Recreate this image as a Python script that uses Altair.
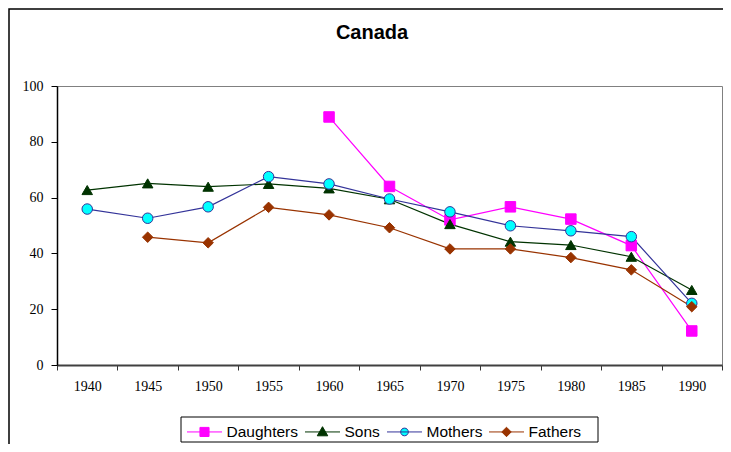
import altair as alt
import pandas as pd

years = [1940, 1945, 1950, 1955, 1960, 1965, 1970, 1975, 1980, 1985, 1990]
daughters = [None, None, None, None, 88.9, 64.0, 52.0, 56.7, 52.3, 42.8, 12.2]
sons = [62.7, 65.1, 63.9, 64.9, 63.3, 59.4, 50.5, 44.2, 43.0, 38.8, 26.9]
mothers = [55.9, 52.6, 56.7, 67.5, 64.9, 59.5, 54.9, 49.9, 48.1, 46.0, 22.1]
fathers = [None, 45.8, 43.8, 56.5, 53.8, 49.2, 41.6, 41.6, 38.5, 34.1, 20.9]

series_names = ["Daughters", "Sons", "Mothers", "Fathers"]
line_colors = ["#FF00FF", "#003300", "#333399", "#993300"]
fill_colors = ["#FF00FF", "#003300", "#00FFFF", "#993300"]
stroke_colors = ["#FF00FF", "#003300", "#333399", "#993300"]
shapes = ["square", "triangle-up", "circle", "diamond"]
legend_shapes = [
    "M-1,0H1M-0.26,-0.26H0.26V0.26H-0.26Z",
    "M-1,0H1M0,-0.3L0.3,0.22H-0.3Z",
    "M-1,0H1M-0.22,0A0.22,0.22 0 1,0 0.22,0A0.22,0.22 0 1,0 -0.22,0Z",
    "M-1,0H1M0,-0.27L0.27,0L0,0.27L-0.27,0Z",
]

rows = []
for name, vals in zip(series_names, [daughters, sons, mothers, fathers]):
    for yr, v in zip(years, vals):
        if v is not None:
            rows.append({"year": yr, "value": v, "series": name})
df = pd.DataFrame(rows)

W, H = 665, 279
half = 2.5
x_domain = [years[0] - half, years[-1] + half]
boundaries = [y - half for y in years] + [years[-1] + half]
label_shift = W / len(years) / 2

x_enc = alt.X(
    "year:Q",
    scale=alt.Scale(domain=x_domain, nice=False, zero=False),
    axis=alt.Axis(
        values=boundaries,
        title=None,
        grid=False,
        labelExpr="datum.value > %s ? '' : format(datum.value + %s, 'd')" % (years[-1], half),
        labelOffset=label_shift,
        labelOverlap=False,
        labelFlush=False,
        labelBound=False,
        labelFont="Liberation Serif",
        labelFontSize=14,
        labelColor="black",
        labelPadding=9,
        tickSize=5,
        tickColor="#333333",
        domainColor="#404040",
        domainWidth=2,
    ),
)
y_enc = alt.Y(
    "value:Q",
    scale=alt.Scale(domain=[0, 100], nice=False),
    axis=alt.Axis(
        values=[0, 20, 40, 60, 80, 100],
        title=None,
        grid=False,
        labelFont="Liberation Serif",
        labelFontSize=14,
        labelColor="black",
        labelPadding=8,
        tickSize=6,
        tickColor="black",
        domainColor="black",
        domainWidth=1.5,
    ),
)

leg = alt.Legend(
    title=None,
    orient="none",
    legendX=129.5,
    legendY=327.7,
    direction="horizontal",
    columns=4,
    padding=0,
    columnPadding=4,
    labelOffset=4,
    labelFont="Liberation Sans",
    labelFontSize=15.5,
    labelColor="black",
    symbolSize=1225,
    symbolStrokeWidth=1,
    symbolOpacity=1,
)

lines = alt.Chart(df).mark_line(strokeWidth=1.2).encode(
    x=x_enc,
    y=y_enc,
    color=alt.Color("series:N", scale=alt.Scale(domain=series_names, range=line_colors), legend=None),
    detail="series:N",
)

points = alt.Chart(df).mark_point(filled=True, size=110, strokeWidth=1, opacity=1).encode(
    x=x_enc,
    y=y_enc,
    shape=alt.Shape("series:N", scale=alt.Scale(domain=series_names, range=shapes), legend=None),
    fill=alt.Fill("series:N", scale=alt.Scale(domain=series_names, range=fill_colors), legend=None),
    stroke=alt.Stroke("series:N", scale=alt.Scale(domain=series_names, range=stroke_colors), legend=None),
)

legend_layer = alt.Chart(df).mark_point(filled=True, opacity=0, strokeWidth=1).encode(
    x=x_enc,
    y=y_enc,
    shape=alt.Shape("series:N", scale=alt.Scale(domain=series_names, range=legend_shapes), legend=leg),
    fill=alt.Fill("series:N", scale=alt.Scale(domain=series_names, range=fill_colors), legend=leg),
    stroke=alt.Stroke("series:N", scale=alt.Scale(domain=series_names, range=stroke_colors), legend=leg),
)

title = alt.Chart(pd.DataFrame({"t": ["Canada"]})).mark_text(
    font="Liberation Sans", fontSize=20, fontWeight="bold", color="black", baseline="middle", align="center"
).encode(text="t:N", x=alt.value(315), y=alt.value(-53))

frame = alt.Chart(pd.DataFrame({"t": [0]})).mark_rect(
    filled=False, stroke="black", strokeWidth=1.5
).encode(x=alt.value(-48), x2=alt.value(700), y=alt.value(-77), y2=alt.value(400))

legend_box = alt.Chart(pd.DataFrame({"t": [0]})).mark_rect(
    filled=False, stroke="black", strokeWidth=1
).encode(x=alt.value(124), x2=alt.value(541), y=alt.value(331), y2=alt.value(356))

chart = alt.layer(frame, legend_box, lines, points, legend_layer, title).resolve_scale(
    color="independent", shape="independent", fill="independent", stroke="independent"
).properties(
    width=W,
    height=H,
    autosize=alt.AutoSizeParams(type="none"),
    padding={"left": 49, "top": 78, "right": 1, "bottom": 79},
    background="white",
).configure_view(stroke="#808080", strokeWidth=1)

chart.save("out.html", embed_options={"renderer": "svg", "actions": False})
